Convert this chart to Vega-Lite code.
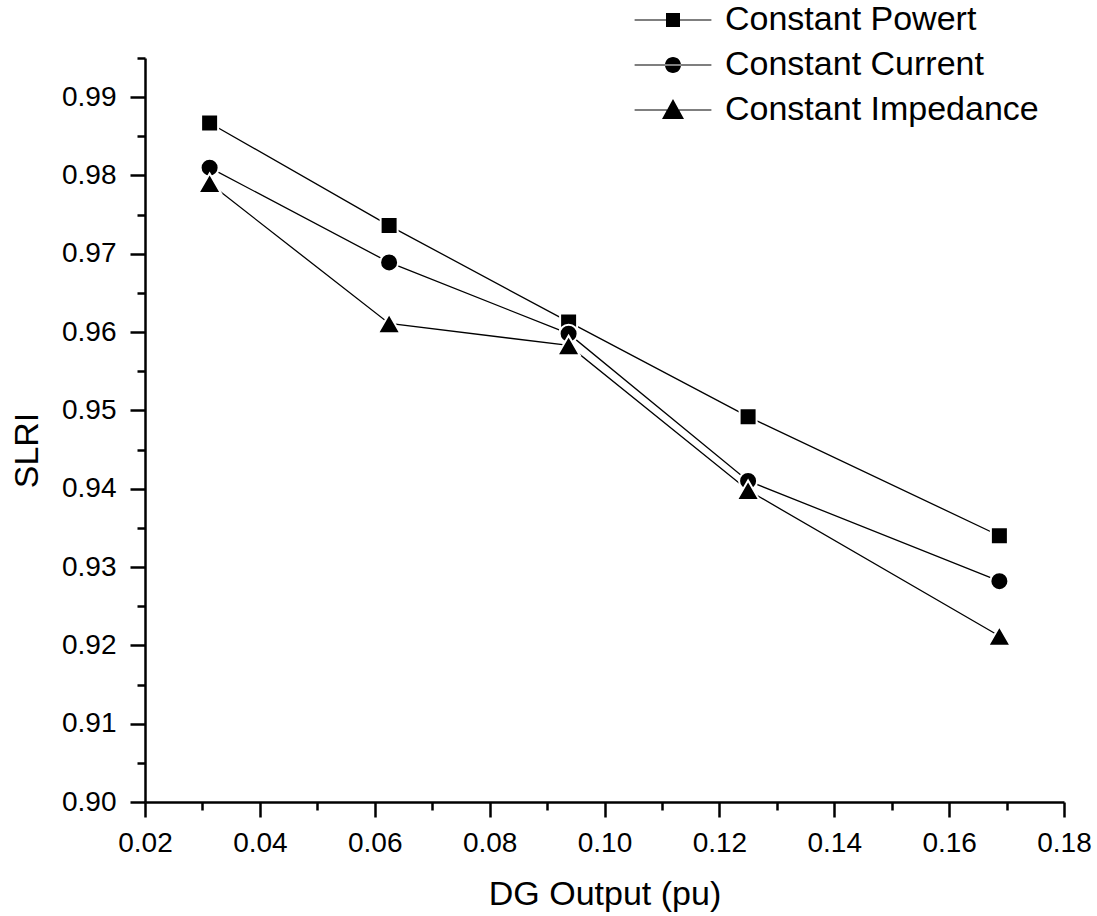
{
  "$schema": "https://vega.github.io/schema/vega-lite/v6.json",
  "autosize": {"type": "none"},
  "width": 919,
  "height": 744,
  "padding": {"left": 145, "top": 58, "right": 33, "bottom": 114},
  "background": "white",
  "config": {"view": {"stroke": null}, "font": "Liberation Sans"},
  "data": {"values": [
    {"x": 0.03125, "y": 0.9867, "series": "Constant Powert"},
    {"x": 0.0625, "y": 0.9736, "series": "Constant Powert"},
    {"x": 0.09375, "y": 0.9613, "series": "Constant Powert"},
    {"x": 0.125, "y": 0.9492, "series": "Constant Powert"},
    {"x": 0.16875, "y": 0.9340, "series": "Constant Powert"},
    {"x": 0.03125, "y": 0.9810, "series": "Constant Current"},
    {"x": 0.0625, "y": 0.9689, "series": "Constant Current"},
    {"x": 0.09375, "y": 0.9598, "series": "Constant Current"},
    {"x": 0.125, "y": 0.9410, "series": "Constant Current"},
    {"x": 0.16875, "y": 0.9282, "series": "Constant Current"},
    {"x": 0.03125, "y": 0.9790, "series": "Constant Impedance"},
    {"x": 0.0625, "y": 0.9611, "series": "Constant Impedance"},
    {"x": 0.09375, "y": 0.9583, "series": "Constant Impedance"},
    {"x": 0.125, "y": 0.9398, "series": "Constant Impedance"},
    {"x": 0.16875, "y": 0.9212, "series": "Constant Impedance"}
  ]},
  "encoding": {
    "x": {
      "field": "x", "type": "quantitative",
      "scale": {"domain": [0.02, 0.18], "nice": false, "zero": false},
      "axis": {
        "values": [0.02, 0.03, 0.04, 0.05, 0.06, 0.07, 0.08, 0.09, 0.10, 0.11, 0.12, 0.13, 0.14, 0.15, 0.16, 0.17, 0.18],
        "title": "DG Output (pu)",
        "grid": false,
        "domainColor": "black", "domainWidth": 2.5,
        "tickColor": "black", "tickWidth": 2.5,
        "tickSize": {"condition": {"test": "abs(datum.value*50 - round(datum.value*50)) < 0.000001", "value": 15}, "value": 8},
        "labelExpr": "abs(datum.value*50 - round(datum.value*50)) < 0.000001 ? format(datum.value, '.2f') : ''",
        "labelFontSize": 28, "labelColor": "black", "labelPadding": 12,
        "labelFlush": false, "labelOverlap": false,
        "titleFontSize": 34, "titleFontWeight": "normal", "titleColor": "black",
        "titleY": 102, "titleBaseline": "alphabetic"
      }
    },
    "y": {
      "field": "y", "type": "quantitative",
      "scale": {"domain": [0.9, 0.995], "nice": false, "zero": false},
      "axis": {
        "values": [0.9, 0.905, 0.91, 0.915, 0.92, 0.925, 0.93, 0.935, 0.94, 0.945, 0.95, 0.955, 0.96, 0.965, 0.97, 0.975, 0.98, 0.985, 0.99, 0.995],
        "title": "SLRI",
        "grid": false,
        "domainColor": "black", "domainWidth": 2.5,
        "tickColor": "black", "tickWidth": 2.5,
        "tickSize": {"condition": {"test": "abs(datum.value*100 - round(datum.value*100)) < 0.000001", "value": 15}, "value": 8},
        "labelExpr": "abs(datum.value*100 - round(datum.value*100)) < 0.000001 ? format(datum.value, '.2f') : ''",
        "labelFontSize": 28, "labelColor": "black", "labelPadding": 14,
        "labelFlush": false, "labelOverlap": false,
        "titleFontSize": 34, "titleFontWeight": "normal", "titleColor": "black",
        "titleX": -108, "titleY": 392, "titleBaseline": "alphabetic", "titleAlign": "center", "titleAngle": 270
      }
    }
  },
  "layer": [
    {
      "mark": {"type": "line", "color": "black", "strokeWidth": 1.3},
      "encoding": {"detail": {"field": "series", "type": "nominal"}}
    },
    {
      "mark": {"type": "point", "filled": true, "color": "black", "fill": "black", "stroke": "white", "strokeWidth": 2, "opacity": 1, "size": 400},
      "encoding": {
        "shape": {
          "field": "series", "type": "nominal",
          "scale": {
            "domain": ["Constant Powert", "Constant Current", "Constant Impedance"],
            "range": [
              "M-0.85,-0.85H0.85V0.85H-0.85Z",
              "M-0.9,0A0.9,0.9,0,1,0,0.9,0A0.9,0.9,0,1,0,-0.9,0Z",
              "M0,-0.975L1.125,0.975H-1.125Z"
            ]
          },
          "legend": null
        }
      }
    },
    {
      "transform": [{"filter": "false"}],
      "mark": {"type": "point", "filled": true, "color": "black", "stroke": "black", "strokeWidth": 1.3, "opacity": 1, "size": 256},
      "encoding": {
        "shape": {
          "field": "series", "type": "nominal",
          "scale": {
            "domain": ["Constant Powert", "Constant Current", "Constant Impedance"],
            "range": [
              "M-4.8,-0.06L4.8,-0.06L4.8,0.06L-4.8,0.06ZM-0.875,-0.875H0.875V0.875H-0.875Z",
              "M-4.8,-0.06L4.8,-0.06L4.8,0.06L-4.8,0.06ZM-1,0A1,1,0,1,0,1,0A1,1,0,1,0,-1,0Z",
              "M-4.8,-0.06L4.8,-0.06L4.8,0.06L-4.8,0.06ZM0,-1.375L1.375,1.125H-1.375Z"
            ]
          },
          "legend": {
            "title": null,
            "orient": "none",
            "direction": "vertical",
            "legendX": 511,
            "legendY": -55,
            "padding": 0,
            "labelFontSize": 34,
            "labelFont": "Liberation Sans",
            "labelColor": "black",
            "labelLimit": 0,
            "labelOffset": 35,
            "rowPadding": 11,
            "symbolSize": 256,
            "symbolStrokeColor": "black",
            "symbolFillColor": "black",
            "symbolStrokeWidth": 0.5,
            "symbolOpacity": 1,
            "encode": {
              "symbols": {
                "update": {
                  "stroke": {"value": "black"},
                  "strokeWidth": {"value": 0.5},
                  "fill": {"value": "black"}
                }
              }
            }
          }
        }
      }
    }
  ],
  "resolve": {"scale": {"shape": "independent"}}
}
